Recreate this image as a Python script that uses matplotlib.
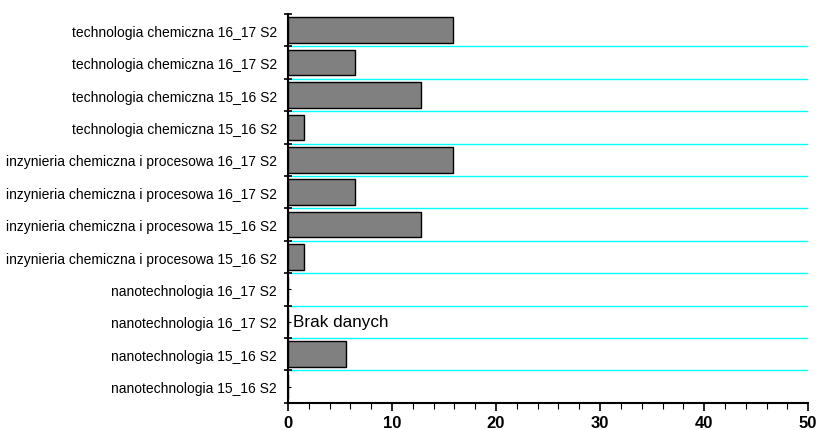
import matplotlib
matplotlib.use("Agg")
import matplotlib.pyplot as plt
import numpy as np

plt.rcParams["font.family"] = ["Liberation Sans", "DejaVu Sans"]

# categories listed top to bottom, as in the picture
categories = [
    "technologia chemiczna 16_17 S2",
    "technologia chemiczna 16_17 S2",
    "technologia chemiczna 15_16 S2",
    "technologia chemiczna 15_16 S2",
    "inzynieria chemiczna i procesowa 16_17 S2",
    "inzynieria chemiczna i procesowa 16_17 S2",
    "inzynieria chemiczna i procesowa 15_16 S2",
    "inzynieria chemiczna i procesowa 15_16 S2",
    "nanotechnologia 16_17 S2",
    "nanotechnologia 16_17 S2",
    "nanotechnologia 15_16 S2",
    "nanotechnologia 15_16 S2",
]
values = [15.9, 6.4, 12.8, 1.5, 15.9, 6.4, 12.8, 1.5, 0, 0, 5.6, 0]
no_data_label = "Brak danych"
no_data_index = 9
x_max = 50

fig = plt.figure(figsize=(8.18, 4.31), dpi=100)
ax = fig.add_axes([0.352, 0.063, 0.636, 0.902])

y = np.arange(len(categories))
ax.barh(y, values, height=0.79, color="#808080", edgecolor="black", linewidth=1.0, zorder=3)

ax.set_ylim(len(categories) - 0.5, -0.5)
ax.set_xlim(0, x_max)

# cyan separators between categories
bounds = np.arange(len(categories) - 1) + 0.5
ax.hlines(bounds, 0, x_max, colors="#00FFFF", linewidth=1.0, zorder=1)

ax.text(0.5, no_data_index, no_data_label, va="center", ha="left", fontsize=12.3)

ax.set_yticks(y)
ax.set_yticklabels(categories, fontsize=10)
ax.set_yticks(np.arange(len(categories) + 1) - 0.5, minor=True)
ax.tick_params(axis="y", which="major", direction="in", length=2, width=0.8, pad=8)
ax.tick_params(axis="y", which="minor", direction="inout", length=6, width=1.2)

ax.set_xticks(np.arange(0, x_max + 1, 10))
ax.set_xticks(np.arange(0, x_max + 1, 2), minor=True)
ax.tick_params(axis="x", which="major", direction="out", length=6, width=1.2, pad=3)
ax.tick_params(axis="x", which="minor", direction="out", length=4, width=0.8)
for lbl in ax.get_xticklabels():
    lbl.set_fontweight("bold")
    lbl.set_fontsize(12)

for side in ("top", "right"):
    ax.spines[side].set_visible(False)
for side in ("left", "bottom"):
    ax.spines[side].set_linewidth(1.5)

fig.savefig("out.png", dpi=100)
